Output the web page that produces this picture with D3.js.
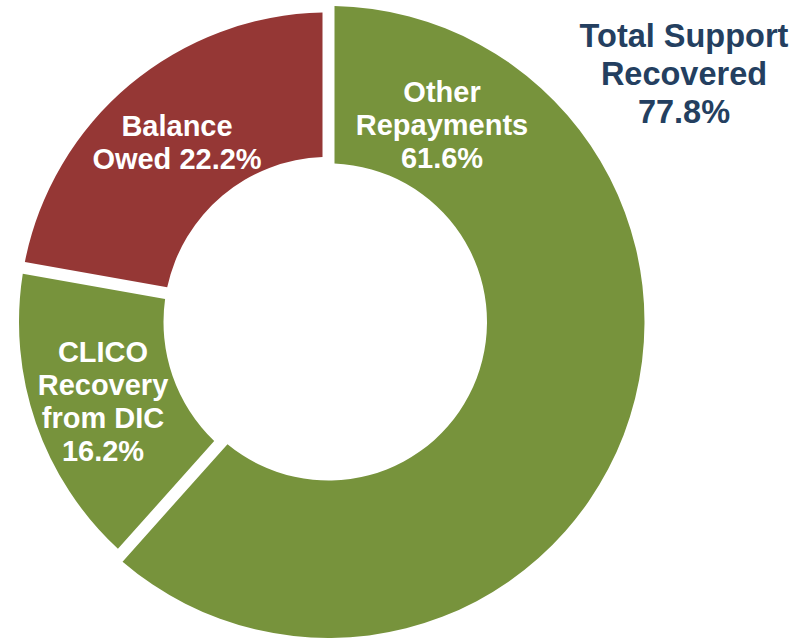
<!DOCTYPE html>
<html>
<head>
<meta charset="utf-8">
<script src="https://cdn.jsdelivr.net/npm/d3@7"></script>
<style>
  html, body { margin: 0; padding: 0; background: #ffffff; }
  svg { display: block; }
</style>
</head>
<body>
<svg id="chart" width="803" height="638"></svg>
<script>
// ---- Data ----
const categories = ["Other Repayments", "CLICO Recovery from DIC", "Balance Owed"];
const values = [61.6, 16.2, 22.2];
const labelLines = [
  ["Other", "Repayments", "61.6%"],
  ["CLICO", "Recovery", "from DIC", "16.2%"],
  ["Balance", "Owed 22.2%"]
];
const summaryLines = ["Total Support", "Recovered", "77.8%"];

// ---- Styles / layout ----
const sliceColors = ["#77933C", "#77933C", "#953735"];
const cx = 328.5, cy = 322;
const gap = 12;

const svg = d3.select("#chart");
const g = svg.append("g").attr("transform", `translate(${cx},${cy})`);

const pie = d3.pie().sort(null).value(d => d)
  .startAngle(0).endAngle(2 * Math.PI);
const arcs = pie(values);

const radiusFor = i => i === 0 ? {inner: 158.5, outer: 316} : {inner: 165, outer: 309.5};

g.selectAll("path.slice")
  .data(arcs)
  .join("path")
  .attr("class", "slice")
  .attr("fill", (d, i) => sliceColors[i])
  .attr("d", (d, i) => {
    const r = radiusFor(i);
    return d3.arc()
      .innerRadius(r.inner)
      .outerRadius(r.outer)
      .padRadius(300)
      .padAngle(gap / 300)(d);
  });

// label anchor positions (centre x, first baseline y), relative to page
const labelAnchors = [
  {x: 442, y: 101.5},
  {x: 103, y: 362},
  {x: 177, y: 135.5}
];
const labelFont = 29, labelStep = 33;

const labels = svg.append("g")
  .attr("font-family", "'Liberation Sans', Arial, Helvetica, sans-serif")
  .attr("font-weight", "bold")
  .attr("font-size", labelFont)
  .attr("fill", "#ffffff")
  .attr("text-anchor", "middle");

labelLines.forEach((lines, i) => {
  const t = labels.append("text")
    .attr("x", labelAnchors[i].x)
    .attr("y", labelAnchors[i].y);
  lines.forEach((ln, j) => {
    t.append("tspan")
      .attr("x", labelAnchors[i].x)
      .attr("y", labelAnchors[i].y + j * labelStep)
      .text(ln);
  });
});

const summary = svg.append("text")
  .attr("font-family", "'Liberation Sans', Arial, Helvetica, sans-serif")
  .attr("font-weight", "bold")
  .attr("font-size", 32.5)
  .attr("fill", "#243F60")
  .attr("text-anchor", "middle");
summaryLines.forEach((ln, j) => {
  summary.append("tspan")
    .attr("x", 684)
    .attr("y", 47 + j * 38)
    .text(ln);
});
</script>
</body>
</html>
